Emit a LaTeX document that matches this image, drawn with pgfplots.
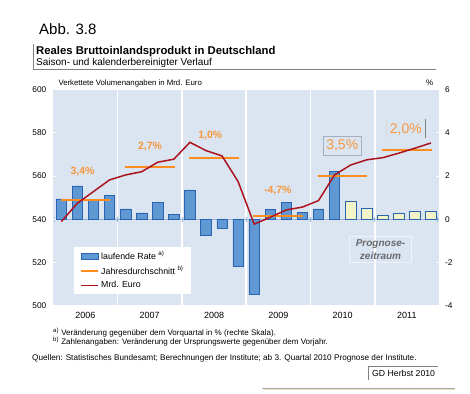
\documentclass[border=0pt]{standalone}
\usepackage{pgfplots}
\pgfplotsset{compat=1.18}
\usepackage{fontspec}
\setmainfont{Liberation Sans}
\definecolor{bgblue}{RGB}{219,229,241}
\definecolor{barfill}{RGB}{95,152,210}
\definecolor{bardraw}{RGB}{40,100,178}
\definecolor{fcfill}{RGB}{243,243,200}
\definecolor{linered}{RGB}{170,20,30}
\definecolor{avgorange}{RGB}{255,140,30}
\definecolor{lblorange}{RGB}{247,150,60}
\definecolor{baseblue}{RGB}{149,179,215}
\definecolor{boxgray}{RGB}{128,128,128}
\definecolor{progray}{RGB}{105,105,110}
\definecolor{lblbox}{RGB}{165,175,190}
\definecolor{shadowtan}{RGB}{235,225,190}
\tikzset{lbl/.style={text=lblorange, font=\fontsize{10.5}{12}\selectfont\bfseries}}
\pgfplotsset{
  common/.style={
    scale only axis, width=385.7pt, height=215.8pt,
    at={(53.3pt,87.5pt)}, anchor=south west,
    xmin=0, xmax=24,
    axis line style={draw=none},
    tick style={white, line width=0.8pt},
    major tick length=3pt,
    /pgf/number format/assume math mode=true,
    tick label style={font=\fontsize{8.3}{9}\selectfont},
  },
  avg/.style={avgorange, line width=2pt, forget plot},
}
\begin{document}
\begin{tikzpicture}
\path[use as bounding box, fill=white] (0,0) rectangle (470pt,393pt);
% right scale axis with background, separators and bars
\begin{axis}[common,
  ymin=-4, ymax=6, ytick={-4,-2,...,6},
  ytick pos=right, yticklabel pos=right,
  yticklabel style={xshift=2.5pt},
  axis background/.style={fill=bgblue},
  xtick={4,8,12,16,20}, xticklabels={},
  xtick style={draw=none},
  xmajorgrids, major x grid style={white, line width=1.6pt},
]
\draw[baseblue, line width=0.9pt] (axis cs:0,0) -- (axis cs:24,0);
\draw[baseblue, line width=0.7pt]
  (axis cs:0.08,-0.12) -- (axis cs:0.08,0.12)
  (axis cs:4,-0.12) -- (axis cs:4,0.12)
  (axis cs:8,-0.12) -- (axis cs:8,0.12)
  (axis cs:12,-0.12) -- (axis cs:12,0.12)
  (axis cs:16,-0.12) -- (axis cs:16,0.12)
  (axis cs:20,-0.12) -- (axis cs:20,0.12)
  (axis cs:23.92,-0.12) -- (axis cs:23.92,0.12);
\addplot[ybar, bar width=0.65, bar shift=0pt, fill=barfill, draw=bardraw, line width=0.6pt] coordinates {
(0.5,0.94) (1.5,1.54) (2.5,0.86) (3.5,1.11)
(4.5,0.48) (5.5,0.29) (6.5,0.77) (7.5,0.21)
(8.5,1.36) (9.5,-0.73) (10.5,-0.42) (11.5,-2.2)
(12.5,-3.5) (13.5,0.46) (14.5,0.77) (15.5,0.31)
(16.5,0.48) (17.5,2.2)
};
\addplot[ybar, bar width=0.65, bar shift=0pt, fill=fcfill, draw=bardraw, line width=0.6pt] coordinates {
(18.5,0.85) (19.5,0.51) (20.5,0.2) (21.5,0.28) (22.5,0.38) (23.5,0.38)
};
\end{axis}
% left scale axis with lines, legend, labels
\begin{axis}[common,
  ymin=500, ymax=600, ytick={500,520,...,600},
  ytick pos=left,
  yticklabel style={xshift=-3.5pt},
  xtick={2,6,10,14,18,22},
  xticklabels={2006,2007,2008,2009,2010,2011},
  xtick style={draw=none},
  xticklabel style={font=\fontsize{9}{10}\selectfont, yshift=-3pt},
  legend cell align=left,
  legend style={at={(0.0537,0.2725)}, anchor=north west, fill=white, draw=none,
    font=\fontsize{8.8}{10}\selectfont, inner xsep=6pt, inner ysep=2.5pt, row sep=1.3pt},
]
\addlegendimage{legend image code/.code={\draw[fill=barfill,draw=bardraw,line width=0.6pt] (0pt,-2.8pt) rectangle (17pt,2.8pt);}}
\addlegendentry{laufende Rate \textsuperscript{a)}}
\addlegendimage{legend image code/.code={\draw[avgorange,line width=2pt] (0pt,0pt) -- (17pt,0pt);}}
\addlegendentry{Jahresdurchschnitt \textsuperscript{b)}\hspace{6pt}}
\addlegendimage{legend image code/.code={\draw[linered,line width=1.8pt] (0pt,0pt) -- (17pt,0pt);}}
\addlegendentry{Mrd. Euro}
\addplot[avg] coordinates {(0.45,548.9) (3.55,548.9)};
\addplot[avg] coordinates {(4.45,564.2) (7.55,564.2)};
\addplot[avg] coordinates {(8.45,568.5) (11.55,568.5)};
\addplot[avg] coordinates {(12.45,541.7) (15.55,541.7)};
\addplot[avg] coordinates {(16.45,560.0) (19.55,560.0)};
\addplot[avg] coordinates {(20.45,572.1) (23.55,572.1)};
\addplot[linered, line width=1.5pt, forget plot] coordinates {
(0.5,538.9) (1.5,547.4) (2.5,552.8) (3.5,558.2)
(4.5,560.5) (5.5,562.0) (6.5,566.4) (7.5,567.8)
(8.5,575.6) (9.5,571.8) (10.5,569.3) (11.5,557.4)
(12.5,537.7) (13.5,540.9) (14.5,544.3) (15.5,545.6)
(16.5,548.6) (17.5,560.5) (18.5,565.1) (19.5,567.5)
(20.5,568.5) (21.5,570.6) (22.5,572.9) (23.5,575.3)
};
\node[lbl] at (axis cs:1.82,562) {3,4\%};
\node[lbl] at (axis cs:6.02,573.4) {2,7\%};
\node[lbl] at (axis cs:9.77,578.9) {1,0\%};
\node[lbl] at (axis cs:13.97,553.2) {-4,7\%};
\node[text=lblorange, font=\fontsize{14}{16}\selectfont, draw=lblbox, line width=0.6pt, inner xsep=3.5pt, inner ysep=3.5pt] at (axis cs:17.98,574) {3,5\%};
\node[text=lblorange, font=\fontsize{14}{16}\selectfont] at (axis cs:21.94,581.7) {2,0\%};
\draw[white!70!gray, line width=0.6pt] (axis cs:20.75,586.3) -- (axis cs:20.75,577.5);
\draw[gray, line width=0.6pt] (axis cs:23.17,586.3) -- (axis cs:23.17,577.5);
\node[text=progray, font=\fontsize{10}{12.5}\selectfont\bfseries\itshape, align=center, draw=white!55!bgblue, line width=0.6pt, inner xsep=6pt, inner ysep=3pt] at (axis cs:20.36,526.0) {Prognose-\\zeitraum};
\end{axis}
% texts around
\node[anchor=base west, font=\fontsize{15}{17}\selectfont, inner sep=0pt] at (39pt,358pt) {Abb. 3.8};
\node[anchor=base west, font=\fontsize{11.3}{13}\selectfont\bfseries, inner sep=0pt] at (36pt,338.5pt) {Reales Bruttoinlandsprodukt in Deutschland};
\node[anchor=base west, font=\fontsize{10}{12}\selectfont, inner sep=0pt] at (36pt,327pt) {Saison- und kalenderbereinigter Verlauf};
\draw[boxgray, line width=0.8pt] (33.3pt,348.7pt) -- (33.3pt,324pt) -- (436pt,324pt);
\node[anchor=base west, font=\fontsize{7.8}{9}\selectfont, inner sep=0pt] at (58.3pt,307pt) {Verkettete Volumenangaben in Mrd. Euro};
\node[anchor=base west, font=\fontsize{8}{9}\selectfont, inner sep=0pt] at (426pt,307pt) {\%};
\node[anchor=base west, font=\fontsize{8}{9}\selectfont, inner sep=0pt] at (53pt,58pt) {\textsuperscript{a)} Veränderung gegenüber dem Vorquartal in \% (rechte Skala).};
\node[anchor=base west, font=\fontsize{8}{9}\selectfont, inner sep=0pt] at (53pt,48.5pt) {\textsuperscript{b)} Zahlenangaben: Veränderung der Ursprungswerte gegenüber dem Vorjahr.};
\node[anchor=base west, font=\fontsize{8.2}{9}\selectfont, inner sep=0pt] at (32pt,33pt) {Quellen: Statistisches Bundesamt; Berechnungen der Institute; ab 3. Quartal 2010 Prognose der Institute.};
\node[anchor=base west, font=\fontsize{8.7}{10}\selectfont, inner sep=0pt] at (372pt,17pt) {GD Herbst 2010};
\draw[boxgray, line width=0.8pt] (368.7pt,13pt) -- (368.7pt,27pt) -- (438.3pt,27pt);
\draw[boxgray!70, line width=1pt] (262pt,5pt) -- (455pt,5pt);
\draw[shadowtan, line width=0.8pt] (264pt,3.6pt) -- (455pt,3.6pt);
\end{tikzpicture}
\end{document}
